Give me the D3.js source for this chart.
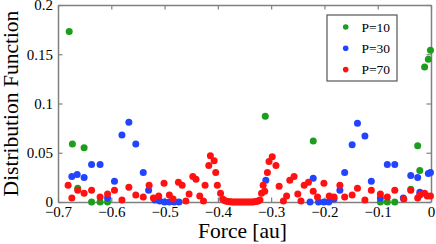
<!DOCTYPE html>
<html>
<head>
<meta charset="utf-8">
<script src="https://cdn.jsdelivr.net/npm/d3@7"></script>
<style>
  body { margin: 0; background: #fff; }
  svg { display: block; }
  text { font-family: "Liberation Serif", "Times New Roman", serif; fill: #000; }
</style>
</head>
<body>
<div id="chart"></div>
<script>
"use strict";

const xTicks = [-0.7, -0.6, -0.5, -0.4, -0.3, -0.2, -0.1, 0];
const xTickLabels = ["\u22120.7", "\u22120.6", "\u22120.5", "\u22120.4", "\u22120.3", "\u22120.2", "\u22120.1", "0"];
const yTicks = [0, 0.05, 0.1, 0.15, 0.2];
const yTickLabels = ["0", "0.05", "0.1", "0.15", "0.2"];
const seriesNames = ["P=10", "P=30", "P=70"];

// [force, distribution]
const p10 = [
  [-0.679, 0.173], [-0.673, 0.059], [-0.663, 0.014], [-0.651, 0.055], [-0.637, 0], [-0.621, 0], [-0.607, 0],
  [-0.311, 0.087], [-0.221, 0.062],
  [-0.095, 0], [-0.082, 0], [-0.068, 0], [-0.038, 0.013], [-0.025, 0.057], [-0.021, 0.032],
  [-0.012, 0.137], [-0.005, 0.145], [-0.001, 0.154]
];

const p30 = [
  [-0.674, 0.026], [-0.664, 0.028], [-0.651, 0.025], [-0.637, 0.038], [-0.621, 0.038], [-0.607, 0.004],
  [-0.594, 0.021], [-0.580, 0.068], [-0.567, 0.081], [-0.554, 0.059], [-0.540, 0.030], [-0.530, 0.012],
  [-0.518, 0.002], [-0.509, 0.001], [-0.500, 0], [-0.491, 0], [-0.482, 0], [-0.473, 0],
  [-0.310, 0.022],
  [-0.227, 0], [-0.221, 0.024], [-0.211, 0], [-0.201, 0], [-0.192, 0], [-0.182, 0.003], [-0.171, 0.012],
  [-0.162, 0.030], [-0.148, 0.058], [-0.138, 0.080], [-0.124, 0.067], [-0.112, 0.021], [-0.095, 0.004],
  [-0.082, 0.038], [-0.068, 0.038], [-0.052, 0.004], [-0.038, 0.027], [-0.025, 0.025], [-0.021, 0.010],
  [-0.005, 0.029], [-0.001, 0.030]
];

const p70 = [
  [-0.681, 0.017], [-0.674, 0.004], [-0.663, 0.012], [-0.651, 0.009], [-0.637, 0.012], [-0.621, 0.005],
  [-0.607, 0.008], [-0.594, 0.012], [-0.580, 0.002], [-0.567, 0.015], [-0.554, 0.007], [-0.540, 0.005],
  [-0.529, 0.017], [-0.521, 0.004], [-0.511, 0.006], [-0.501, 0.019], [-0.491, 0.007], [-0.484, 0.003],
  [-0.474, 0.020], [-0.467, 0.017], [-0.460, 0.001], [-0.454, 0.008], [-0.447, 0.026], [-0.441, 0.023],
  [-0.434, 0.006], [-0.427, 0.001], [-0.424, 0.017], [-0.417, 0.037], [-0.414, 0.047], [-0.407, 0.042],
  [-0.404, 0.030], [-0.401, 0.017], [-0.395, 0.009], [-0.391, 0.003],
  [-0.3875, 0.0015], [-0.384, 0.0008], [-0.3805, 0.0004], [-0.377, 0.0002], [-0.3735, 0.0001],
  [-0.370, 0], [-0.3665, 0], [-0.363, 0], [-0.3595, 0], [-0.356, 0], [-0.3525, 0], [-0.349, 0],
  [-0.3455, 0], [-0.342, 0], [-0.3385, 0], [-0.335, 0.0001], [-0.3315, 0.0002], [-0.328, 0.0005],
  [-0.3245, 0.001], [-0.321, 0.002],
  [-0.318, 0.009], [-0.315, 0.017], [-0.312, 0.011], [-0.307, 0.030], [-0.304, 0.041], [-0.298, 0.046],
  [-0.291, 0.037], [-0.285, 0.016], [-0.277, 0.001], [-0.271, 0.006], [-0.265, 0.022], [-0.257, 0.026],
  [-0.250, 0.008], [-0.244, 0.001], [-0.238, 0.017], [-0.230, 0.020], [-0.221, 0.011], [-0.213, 0.005],
  [-0.201, 0.019], [-0.191, 0.006], [-0.182, 0.005], [-0.171, 0.017], [-0.162, 0.005], [-0.148, 0.007],
  [-0.138, 0.014], [-0.124, 0.002], [-0.112, 0.012], [-0.095, 0.008], [-0.082, 0.005], [-0.068, 0.012],
  [-0.051, 0.003], [-0.038, 0.012], [-0.025, 0.004], [-0.021, 0.007], [-0.012, 0.009], [-0.007, 0.006],
  [-0.001, 0.006]
];

const colors = ["#1c9e1c", "#2244ff", "#ff1111"];
const axisColor = "#808080";

const width = 436, height = 244;
const margin = { top: 5, right: 5, bottom: 42, left: 58 };
const plotW = width - margin.left - margin.right;
const plotH = height - margin.top - margin.bottom;

const svg = d3.select("#chart").append("svg")
  .attr("width", width)
  .attr("height", height);

const g = svg.append("g")
  .attr("transform", `translate(${margin.left},${margin.top})`);

const x = d3.scaleLinear().domain([-0.7, 0]).range([0, plotW]);
const y = d3.scaleLinear().domain([0, 0.2]).range([plotH, 0]);

function styleAxis(sel) {
  sel.select(".domain").attr("stroke", axisColor).attr("stroke-width", 1.5);
  sel.selectAll(".tick line").attr("stroke", axisColor).attr("stroke-width", 1.2);
  sel.selectAll(".tick text").attr("fill", "#000").style("font-size", "15px")
    .style("font-family", "'Liberation Serif', 'Times New Roman', serif");
}

// bottom + top
g.append("g")
  .attr("transform", `translate(0,${plotH})`)
  .call(d3.axisBottom(x).tickValues(xTicks).tickSizeInner(-4.5).tickSizeOuter(0).tickPadding(4)
    .tickFormat((d, i) => xTickLabels[i]))
  .call(styleAxis);
g.append("g")
  .call(d3.axisTop(x).tickValues(xTicks).tickSizeInner(-4.5).tickSizeOuter(0).tickFormat(""))
  .call(styleAxis);

// left + right
g.append("g")
  .call(d3.axisLeft(y).tickValues(yTicks).tickSizeInner(-4.5).tickSizeOuter(0).tickPadding(5)
    .tickFormat((d, i) => yTickLabels[i]))
  .call(styleAxis);
g.append("g")
  .attr("transform", `translate(${plotW},0)`)
  .call(d3.axisRight(y).tickValues(yTicks).tickSizeInner(-4.5).tickSizeOuter(0).tickFormat(""))
  .call(styleAxis);

// points, P=10 first so P=70 sits on top
[p10, p30, p70].forEach((data, k) => {
  g.append("g").selectAll("circle")
    .data(data)
    .join("circle")
    .attr("cx", d => x(d[0]))
    .attr("cy", d => y(d[1]))
    .attr("r", 3.5)
    .attr("fill", colors[k]);
});

// axis titles
svg.append("text")
  .attr("x", margin.left + plotW / 2 - 2)
  .attr("y", 238)
  .attr("text-anchor", "middle")
  .style("font-size", "21.5px")
  .text("Force [au]");

svg.append("text")
  .attr("transform", `translate(18,${margin.top + plotH / 2}) rotate(-90)`)
  .attr("text-anchor", "middle")
  .style("font-size", "21.5px")
  .text("Distribution Function");

// legend
const legend = svg.append("g").attr("transform", "translate(327,15)");
legend.append("rect")
  .attr("width", 70)
  .attr("height", 66)
  .attr("fill", "#fff")
  .attr("stroke", "#555")
  .attr("stroke-width", 1.2);
seriesNames.forEach((name, i) => {
  const row = legend.append("g").attr("transform", `translate(0,${12 + i * 21.3})`);
  row.append("circle").attr("cx", 18.7).attr("cy", 0).attr("r", 2.8).attr("fill", colors[i]);
  row.append("text").attr("x", 34.5).attr("y", 4.7).style("font-size", "13.5px").text(name);
});
</script>
</body>
</html>
